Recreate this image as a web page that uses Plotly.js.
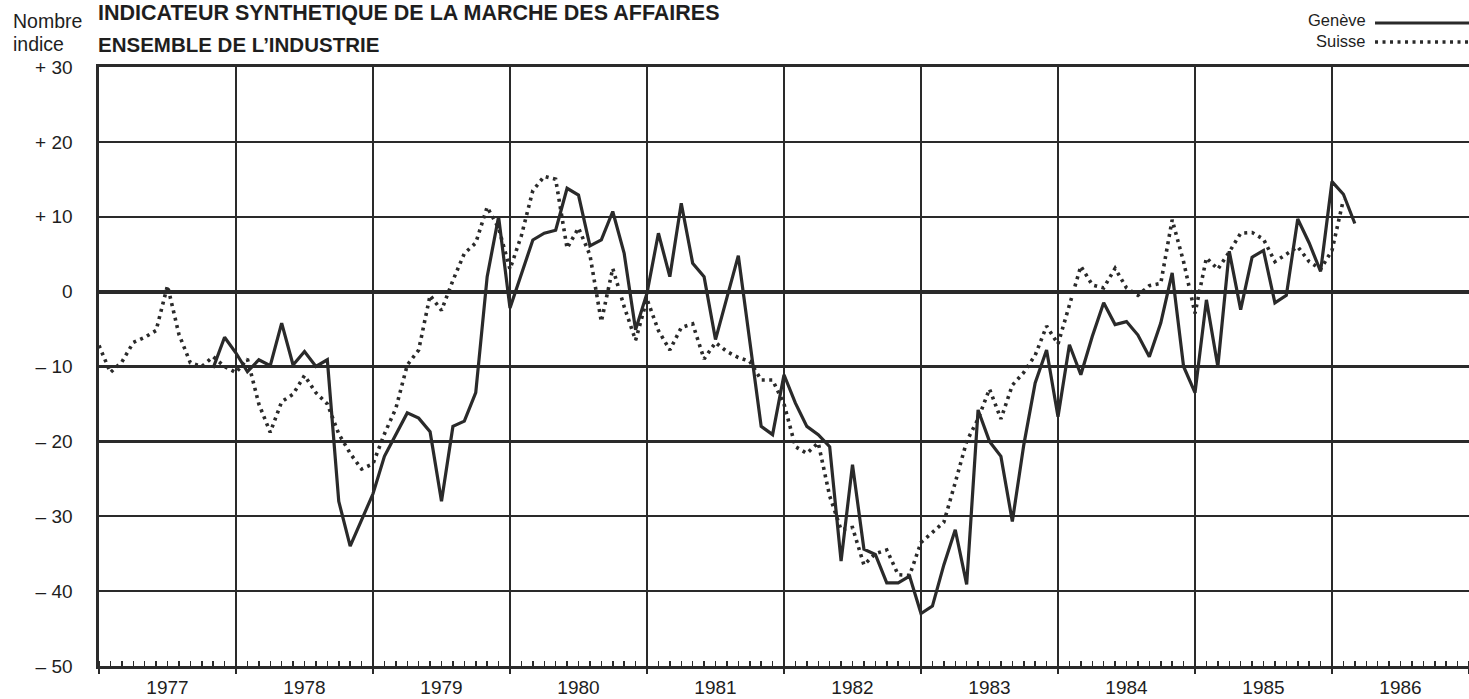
<!DOCTYPE html>
<html>
<head>
<meta charset="utf-8">
<script src="https://cdn.plot.ly/plotly-3.0.1.min.js"></script>
<style>
  html, body { margin: 0; padding: 0; background: #ffffff; }
  #chart { width: 1469px; height: 699px; }
</style>
</head>
<body>
<div id="chart"></div>
<script>
// ---- Data (monthly values) ----
// Suisse: monthly from January 1977
const suisseStart = { year: 1977, month: 0 };
const suisse = [
  -7.2, -10.8, -9.4, -6.8, -6.1, -5.2, 0.8, -5.7, -9.5, -10.0, -8.7, -10.0,
  -10.8, -9.0, -15.0, -18.8, -14.7, -13.7, -11.2, -13.5, -15.0, -19.0, -21.6, -23.7,
  -23.0, -19.0, -15.6, -9.8, -7.8, -0.5, -2.5, 1.5, 5.1, 6.5, 11.3, 8.5,
  3.0, 7.5, 13.5, 15.4, 15.0, 5.8, 8.5, 4.9, -4.0, 3.1, -2.0, -6.5,
  -1.0, -5.2, -7.8, -4.8, -4.3, -9.0, -6.8, -8.0, -8.8, -9.3, -11.8, -11.8,
  -15.0, -20.7, -21.6, -20.2, -27.3, -31.8, -31.5, -36.5, -35.0, -34.5, -37.8, -37.9,
  -33.5, -32.1, -30.8, -25.5, -20.0, -17.0, -13.0, -17.0, -12.5, -10.8, -8.5, -4.6,
  -7.0, -1.8, 3.4, 0.9, 0.5, 3.1, 0.5, -0.5, 0.8, 1.1, 9.6, 4.0,
  -2.9, 4.5, 3.0, 5.3, 7.8, 7.9, 7.0, 4.0, 5.0, 6.0, 4.0, 3.0,
  5.5, 12.3
];
// Genève: monthly from November 1977
const geneveStart = { year: 1977, month: 10 };
const geneve = [
  -10.2, -6.1,
  -8.2, -10.7, -9.1, -9.9, -4.2, -9.8, -8.0, -10.0, -9.1, -28.0, -34.0, -30.5,
  -27.0, -22.0, -19.0, -16.2, -16.9, -18.7, -28.0, -18.0, -17.3, -13.5, 2.0, 10.0,
  -2.2, 2.5, 6.9, 7.8, 8.2, 13.8, 12.9, 6.1, 6.9, 10.7, 5.1, -5.1,
  -0.2, 7.8, 2.0, 11.8, 3.8, 2.0, -6.4, -0.8, 4.8, -6.6, -18.0, -19.1,
  -11.1, -14.9, -18.0, -19.1, -20.7, -36.0, -23.1, -34.4, -35.1, -38.9, -38.9, -38.0,
  -43.0, -42.0, -36.5, -31.8, -39.1, -15.8, -20.0, -22.0, -30.7, -20.5, -12.2, -7.8,
  -16.7, -7.1, -11.1, -6.0, -1.5, -4.4, -4.0, -5.8, -8.7, -4.2, 2.5, -10.0,
  -13.5, -1.1, -10.0, 5.4, -2.4, 4.6, 5.5, -1.5, -0.5, 9.7, 6.5, 2.7,
  14.7, 13.0, 9.1
];
const years = [1977, 1978, 1979, 1980, 1981, 1982, 1983, 1984, 1985, 1986];
const yearLabels = ["1977", "1978", "1979", "1980", "1981", "1982", "1983", "1984", "1985", "1986"];
const yTickVals = [30, 20, 10, 0, -10, -20, -30, -40, -50];
const yTickText = ["+ 30", "+ 20", "+ 10", "0", "\u2013 10", "\u2013 20", "\u2013 30", "\u2013 40", "\u2013 50"];
const seriesNames = ["Genève", "Suisse"];

// ---- helpers ----
function monthX(start, n) {
  const xs = [];
  for (let i = 0; i < n; i++) xs.push(start.year + (start.month + i) / 12);
  return xs;
}

const ink = '#2a2a2a';
const textFont = 'Liberation Sans, Arial, sans-serif';
const tickFontY = { family: textFont, size: 19, color: '#1e1e1e' };
const tickFontX = { family: textFont, size: 19, color: '#1e1e1e' };

const traces = [
  {
    x: monthX(geneveStart, geneve.length), y: geneve,
    type: 'scatter', mode: 'lines', name: seriesNames[0],
    line: { color: ink, width: 3.2 }, showlegend: false, hoverinfo: 'skip'
  },
  {
    x: monthX(suisseStart, suisse.length), y: suisse,
    type: 'scatter', mode: 'lines', name: seriesNames[1],
    line: { color: ink, width: 3.6, dash: '3px,4.5px' }, showlegend: false, hoverinfo: 'skip'
  },
  // invisible trace to activate the grid axis
  {
    x: [years[0], years[years.length - 1] + 1], y: [null, null], xaxis: 'x2',
    type: 'scatter', mode: 'lines', showlegend: false, hoverinfo: 'skip'
  }
];

const x0 = years[0], x1 = years[years.length - 1] + 1;

const layout = {
  width: 1469, height: 699,
  margin: { l: 99, r: 0, t: 67, b: 33, pad: 0 },
  paper_bgcolor: '#ffffff', plot_bgcolor: '#ffffff',
  showlegend: false,
  xaxis: {
    range: [x0, x1], fixedrange: true,
    tickmode: 'array', tickvals: years.map(y => y + 0.5), ticktext: yearLabels,
    ticks: '', showgrid: false, zeroline: false,
    showline: true, linecolor: ink, linewidth: 3, mirror: true,
    tickfont: tickFontX, ticklabelstandoff: 2,
    minor: { tickmode: 'linear', tick0: x0, dtick: 1 / 12, ticks: 'inside', ticklen: 5, tickwidth: 1.5, tickcolor: ink, showgrid: false }
  },
  xaxis2: {
    range: [x0, x1], overlaying: 'x', side: 'bottom', fixedrange: true,
    tickmode: 'array', tickvals: years.concat([x1]), showticklabels: false,
    ticks: 'outside', ticklen: 7, tickwidth: 2, tickcolor: ink,
    showgrid: true, gridcolor: ink, gridwidth: 2.2, zeroline: false, showline: false
  },
  yaxis: {
    range: [-50, 30], fixedrange: true,
    tickmode: 'array', tickvals: yTickVals, ticktext: yTickText,
    ticks: '', showgrid: true, gridcolor: ink, gridwidth: 2.4,
    zeroline: true, zerolinecolor: ink, zerolinewidth: 4,
    showline: true, linecolor: ink, linewidth: 2.6, mirror: true,
    tickfont: tickFontY, ticklabelstandoff: 20
  },
  annotations: [
    { xref: 'paper', yref: 'paper', x: -0.002, y: 1.0905, xanchor: 'left', yanchor: 'middle', showarrow: false,
      text: '<b>INDICATEUR SYNTHETIQUE DE LA MARCHE DES AFFAIRES</b>', font: { family: textFont, size: 21.5, color: '#1e1e1e' } },
    { xref: 'paper', yref: 'paper', x: -0.002, y: 1.038, xanchor: 'left', yanchor: 'middle', showarrow: false,
      text: '<b>ENSEMBLE DE L\u2019INDUSTRIE</b>', font: { family: textFont, size: 20.5, color: '#1e1e1e' } },
    { xref: 'paper', yref: 'paper', x: -0.0645, y: 1.077, xanchor: 'left', yanchor: 'middle', showarrow: false,
      text: 'Nombre', font: { family: textFont, size: 19.5, color: '#1e1e1e' } },
    { xref: 'paper', yref: 'paper', x: -0.0645, y: 1.038, xanchor: 'left', yanchor: 'middle', showarrow: false,
      text: 'indice', font: { family: textFont, size: 19.5, color: '#1e1e1e' } },
    { xref: 'paper', yref: 'paper', x: 0.926, y: 1.0785, xanchor: 'right', yanchor: 'middle', showarrow: false,
      text: seriesNames[0], font: { family: textFont, size: 16.5, color: '#1e1e1e' } },
    { xref: 'paper', yref: 'paper', x: 0.926, y: 1.0442, xanchor: 'right', yanchor: 'middle', showarrow: false,
      text: seriesNames[1], font: { family: textFont, size: 16.5, color: '#1e1e1e' } }
  ],
  shapes: [
    { type: 'line', xref: 'paper', yref: 'paper', x0: 0.9314, x1: 1.0, y0: 1.0735, y1: 1.0735,
      line: { color: ink, width: 3 } },
    { type: 'line', xref: 'paper', yref: 'paper', x0: 0.9314, x1: 1.0, y0: 1.0417, y1: 1.0417,
      line: { color: ink, width: 3.6, dash: '3px,4.5px' } }
  ]
};

Plotly.newPlot('chart', traces, layout, { staticPlot: true, displayModeBar: false });
</script>
</body>
</html>
